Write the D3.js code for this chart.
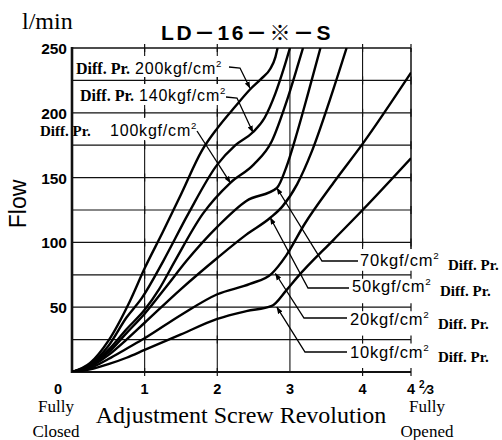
<!DOCTYPE html>
<html>
<head>
<meta charset="utf-8">
<script src="https://cdn.jsdelivr.net/npm/d3@7/dist/d3.min.js"></script>
<style>
body { margin: 0; background: #fff; }
</style>
</head>
<body>
<div id="chart"></div>
<script>
// x = screw revolutions, y = flow (l/min)
var revTicks = [0, 1, 2, 3, 4];
var flowTicks = [50, 100, 150, 200, 250];
var flowGrid = [0, 25, 50, 75, 100, 125, 150, 175, 200, 225, 250];
var revMax = 14 / 3;

var curve200 = [[0,0],[0.25,7],[0.5,24],[0.8,55],[1,80],[1.25,108],[1.5,137],[1.79,171],[2,188],[2.25,205],[2.45,218],[2.6,226],[2.73,234],[2.8,243],[2.83,250]];
var curve140 = [[0,0],[0.25,6],[0.5,20],[0.75,42],[0.96,57],[1.26,86],[1.6,122],[2,160],[2.25,175],[2.49,185],[2.65,196],[2.8,215],[2.92,235],[3.0,250]];
var curve100 = [[0,0],[0.25,5],[0.5,17],[0.75,33],[1,48],[1.2,64],[1.42,86],[1.8,122],[2.18,146],[2.5,160],[2.75,178],[2.95,208],[3.1,235],[3.18,250]];
var curve70 = [[0,0],[0.25,5],[0.5,15],[0.75,30],[1,45],[1.3,66],[1.58,86],[2,112],[2.4,132],[2.82,142],[2.95,158],[3.1,185],[3.25,215],[3.42,250]];
var curve50 = [[0,0],[0.25,4],[0.5,13],[0.75,25],[1,38],[1.5,64],[2,88],[2.4,106],[2.73,119],[2.9,128],[3.1,145],[3.3,170],[3.55,210],[3.78,250]];
var curve20 = [[0,0],[0.25,3],[0.5,10],[0.75,18],[1,26],[1.5,44],[2,60],[2.45,68],[2.75,76],[2.95,90],[3.2,114],[3.6,146],[4,176],[4.667,231]];
var curve10 = [[0,0],[0.25,2],[0.5,6],[0.75,11],[1,17],[1.5,29],[2,41],[2.4,47],[2.75,51],[2.95,63],[3.1,73],[3.6,102],[4,125],[4.667,165]];

var curves = [curve200, curve140, curve100, curve70, curve50, curve20, curve10];

// pressure labels and the curve point each leader points at
var pressures = ["200", "140", "100", "70", "50", "20", "10"];
var leaderTips = [[2.45,219],[2.49,185],[2.18,146],[2.82,142],[2.73,119],[2.8,76],[2.82,50]];

var width = 502,
    height = 440;

var svg = d3.select("#chart")
    .append("svg")
    .attr("width", width)
    .attr("height", height)
    .style("font-family", "'Liberation Sans', Arial, sans-serif");

var x = d3.scaleLinear().domain([0, revMax]).range([72, 411]);
var y = d3.scaleLinear().domain([0, 250]).range([372, 48]);

svg.append("defs").append("marker")
    .attr("id", "tip")
    .attr("viewBox", "0 -3 7 6")
    .attr("refX", 6.5)
    .attr("refY", 0)
    .attr("markerUnits", "userSpaceOnUse")
    .attr("markerWidth", 7)
    .attr("markerHeight", 6)
    .attr("orient", "auto")
    .append("path")
    .attr("d", "M0,-2.6L7,0L0,2.6Z")
    .attr("fill", "#000");

svg.append("clipPath")
    .attr("id", "plot")
    .append("rect")
    .attr("x", x(0))
    .attr("y", y(250))
    .attr("width", x(revMax) - x(0))
    .attr("height", y(0) - y(250));

var grid = svg.append("g").attr("stroke", "#111");

// horizontal grid
grid.selectAll(".hgrid")
    .data(flowGrid)
    .enter().append("line")
    .attr("class", "hgrid")
    .attr("x1", x(0))
    .attr("x2", x(revMax))
    .attr("y1", function(d) { return y(d) })
    .attr("y2", function(d) { return y(d) })
    .attr("stroke-width", function(d) { return d == 0 ? 2.2 : (d == 250 ? 1.6 : 1.2) });

// vertical grid 1..3 full height, 4 and 4 2/3 stop above the right labels
grid.selectAll(".vgrid")
    .data([1, 2, 3, 4, revMax])
    .enter().append("line")
    .attr("class", "vgrid")
    .attr("x1", function(d) { return x(d) })
    .attr("x2", function(d) { return x(d) })
    .attr("y1", y(250))
    .attr("y2", function(d) { return d < 4 ? y(0) : y(95) })
    .attr("stroke-width", function(d) { return d == revMax ? 1.5 : 1.1 });

grid.append("line")
    .attr("x1", x(0)).attr("x2", x(0))
    .attr("y1", y(250) - 1).attr("y2", y(0) + 1)
    .attr("stroke-width", 2.6);

// white boxes behind the left labels
var boxes = [[74, 56, 156, 21], [78, 84, 150, 21], [106, 118, 94, 22]];
svg.selectAll(".box")
    .data(boxes)
    .enter().append("rect")
    .attr("x", function(d) { return d[0] })
    .attr("y", function(d) { return d[1] })
    .attr("width", function(d) { return d[2] })
    .attr("height", function(d) { return d[3] })
    .attr("fill", "#fff");

// small tick crosses where the grid is hidden
var cross = [];
[1, 2, 4, revMax].forEach(function(r) {
    flowGrid.forEach(function(f) { cross.push([r, f]) })
});
grid.selectAll(".cross")
    .data(cross)
    .enter().append("line")
    .attr("x1", function(d) { return x(d[0]) })
    .attr("x2", function(d) { return x(d[0]) })
    .attr("y1", function(d) { return y(d[1]) - 4 })
    .attr("y2", function(d) { return y(d[1]) + 4 })
    .attr("stroke-width", 1.2);

// curves
var line = d3.line()
    .x(function(d) { return x(d[0]) })
    .y(function(d) { return y(d[1]) })
    .curve(d3.curveMonotoneX);

svg.append("g")
    .attr("clip-path", "url(#plot)")
    .selectAll(".flow")
    .data(curves)
    .enter().append("path")
    .attr("class", "flow")
    .attr("d", line)
    .attr("fill", "none")
    .attr("stroke", "#000")
    .attr("stroke-width", 2.4)
    .attr("stroke-linejoin", "round");

// leaders: start, elbow, then the tip on the curve
var leaderStart = [[229, 67, 240, 68], [226, 97, 237, 98], [197, 131, 197, 131],
    [358, 261, 322, 261], [349, 288, 308, 288], [347, 318, 304, 318], [347, 352, 305, 352]];
svg.selectAll(".leader")
    .data(leaderTips)
    .enter().append("path")
    .attr("class", "leader")
    .attr("d", function(d, i) {
        var s = leaderStart[i];
        return "M" + s[0] + "," + s[1] + "L" + s[2] + "," + s[3] + "L" + x(d[0]) + "," + y(d[1]);
    })
    .attr("fill", "none")
    .attr("stroke", "#000")
    .attr("stroke-width", 1.3)
    .attr("marker-end", "url(#tip)");

var serif = "'Liberation Serif', 'Times New Roman', serif";

function kgf(g, px, py, p, size) {
    var t = g.append("text")
        .attr("x", px).attr("y", py)
        .attr("font-size", size)
        .attr("letter-spacing", 0.8);
    t.append("tspan").text(p + "kgf/cm");
    t.append("tspan").attr("dy", -7).attr("font-size", size * 0.6).text("2");
    return t;
}
function diff(g, px, py, size) {
    return g.append("text")
        .attr("x", px).attr("y", py)
        .attr("font-family", serif)
        .attr("font-weight", "bold")
        .attr("font-size", size)
        .text("Diff. Pr.");
}

var labels = svg.append("g").attr("fill", "#000");
diff(labels, 76, 74, 16);
kgf(labels, 135, 74, pressures[0], 16);
diff(labels, 80, 101, 16);
kgf(labels, 139, 101, pressures[1], 16);
diff(labels, 40, 136, 15);
kgf(labels, 110, 136, pressures[2], 16);

var rightY = [266, 292, 325, 358];
var rightX = [360, 352, 350, 350];
rightY.forEach(function(ry, i) {
    kgf(labels, rightX[i], ry, pressures[i + 3], 16.5);
    diff(labels, rightX[i] + 88, ry + 4, 15);
});

// axis labels
svg.selectAll(".ylab")
    .data(flowTicks)
    .enter().append("text")
    .attr("class", "ylab")
    .attr("x", 67)
    .attr("y", function(d) { return y(d) + 6 })
    .attr("text-anchor", "end")
    .attr("font-size", 15.5)
    .attr("font-weight", "bold")
    .text(function(d) { return d });

svg.selectAll(".xlab")
    .data(revTicks)
    .enter().append("text")
    .attr("class", "xlab")
    .attr("x", function(d) { return d == 0 ? x(d) - 14 : x(d) })
    .attr("y", 394)
    .attr("text-anchor", "middle")
    .attr("font-size", 14.5)
    .attr("font-weight", "bold")
    .text(function(d) { return d });

var last = svg.append("text")
    .attr("x", x(revMax) - 4)
    .attr("y", 394)
    .attr("font-size", 14.5)
    .attr("font-weight", "bold");
last.append("tspan").text("4 ");
last.append("tspan").attr("dy", -6).attr("font-size", 10).text("2");
last.append("tspan").attr("dy", 6).attr("font-size", 13).text("⁄3");

svg.append("text")
    .attr("x", 22).attr("y", 29)
    .attr("font-family", serif)
    .attr("font-size", 24)
    .text("l/min");

svg.append("text")
    .attr("transform", "translate(26,204) rotate(-90)")
    .attr("text-anchor", "middle")
    .attr("font-size", 23)
    .text("Flow");

svg.append("text")
    .attr("x", 247).attr("y", 40)
    .attr("text-anchor", "middle")
    .attr("font-size", 21)
    .attr("font-weight", "bold")
    .attr("letter-spacing", 2.5)
    .style("font-family", "'Liberation Sans', 'Noto Sans CJK JP', sans-serif")
    .text("LD－16－※－S");

svg.append("text")
    .attr("x", 241).attr("y", 423)
    .attr("text-anchor", "middle")
    .attr("font-family", serif)
    .attr("font-size", 24)
    .text("Adjustment Screw Revolution");

var ends = [[56, "Fully", "Closed"], [427, "Fully", "Opened"]];
ends.forEach(function(e) {
    svg.append("text")
        .attr("x", e[0]).attr("y", 412)
        .attr("text-anchor", "middle")
        .attr("font-family", serif)
        .attr("font-size", 17)
        .text(e[1]);
    svg.append("text")
        .attr("x", e[0]).attr("y", 437)
        .attr("text-anchor", "middle")
        .attr("font-family", serif)
        .attr("font-size", 17)
        .text(e[2]);
});
</script>
</body>
</html>
